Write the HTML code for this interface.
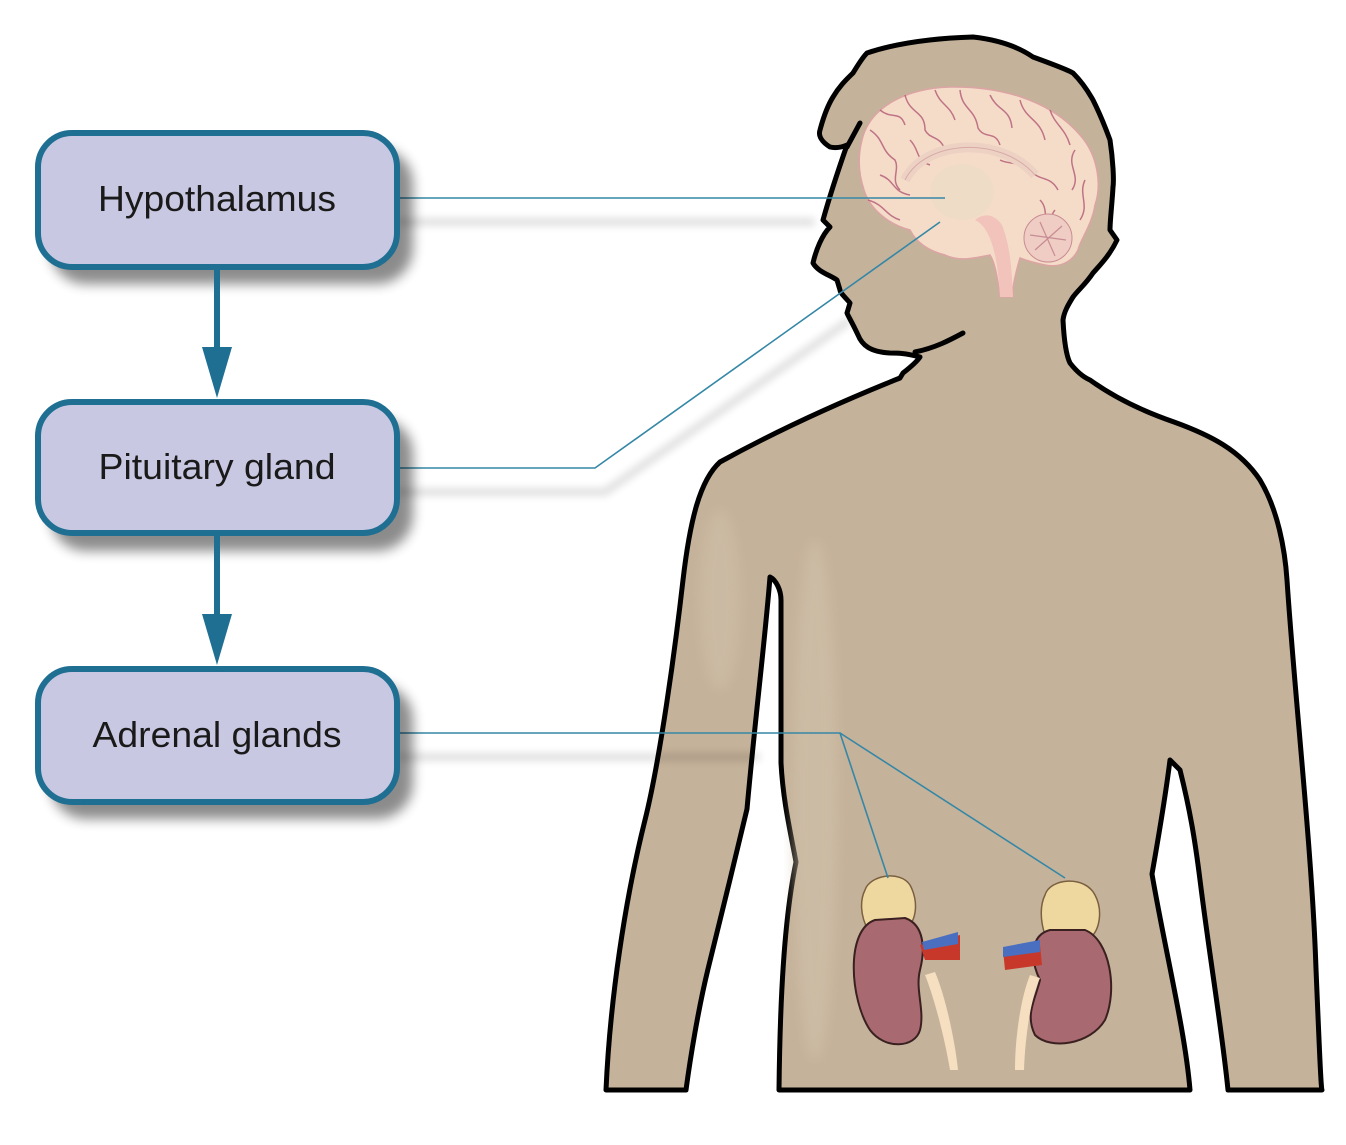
<!DOCTYPE html>
<html><head><meta charset="utf-8"><style>
html,body{margin:0;padding:0;background:#fff;}
svg{display:block;}
text{font-family:"Liberation Sans",sans-serif;}
</style></head><body>
<svg width="1346" height="1145" viewBox="0 0 1346 1145" xmlns="http://www.w3.org/2000/svg">
<defs>
<filter id="blur" x="-20%" y="-20%" width="140%" height="140%"><feGaussianBlur stdDeviation="6"/></filter>
<filter id="blur2" x="-50%" y="-50%" width="200%" height="200%"><feGaussianBlur stdDeviation="4"/></filter>
</defs>

<!-- body -->
<path d="M867,53 C900,42 940,38 973,37 C1000,40 1020,48 1033,57 C1055,65 1068,70 1073,73 C1085,85 1090,95 1093,100 C1103,120 1108,135 1110,140 C1113,160 1114,180 1113,187 C1112,205 1110,220 1110,230 L1117,240 C1110,255 1100,265 1093,273 C1085,285 1078,290 1073,297 C1068,305 1064,312 1063,320 C1064,340 1066,355 1070,363 C1077,372 1083,377 1090,380 C1115,398 1145,412 1174,422 C1210,435 1240,450 1260,480 C1278,510 1285,550 1287,580 C1295,700 1312,850 1316,969 C1319,1040 1321,1090 1322,1090 L1228,1090 C1222,1030 1210,960 1200,880 C1195,840 1190,810 1180,770 L1170,760 C1165,800 1158,840 1152,874 C1165,950 1185,1030 1190,1090 L779,1090 C780,1000 784,920 796,862 C790,830 783,800 781,763 C781,710 781,650 781,600 C781,590 776,580 770,577 C765,640 755,720 747,809 C735,860 720,920 708,969 C698,1010 690,1060 686,1090 L606,1090 C610,1000 625,900 645,820 C660,760 675,650 683,580 C690,520 700,480 720,462 C760,440 820,410 900,378 L903,373 C912,366 918,360 920,357 C905,353 897,353 890,353 C870,352 862,345 858,335 C852,322 848,316 847,313 L850,303 C846,298 840,293 840,290 L837,280 C830,275 818,272 813,263 C816,250 822,235 830,227 L823,220 C830,195 840,165 847,145 C840,148 834,148 830,147 C822,142 818,136 820,130 C824,115 828,105 833,97 C840,85 848,78 853,73 C858,65 862,58 867,53 Z"
 fill="#c5b29a" stroke="#000" stroke-width="5" stroke-linejoin="round"/>
<path d="M847,147 L860,123" stroke="#000" stroke-width="5" stroke-linecap="round"/>
<path d="M915,352 C935,348 950,340 963,333" fill="none" stroke="#000" stroke-width="5" stroke-linecap="round"/>
<!-- lighter shading -->
<ellipse cx="815" cy="800" rx="22" ry="260" fill="#d2c2ac" opacity="0.6" filter="url(#blur)"/>
<ellipse cx="720" cy="600" rx="20" ry="90" fill="#d2c2ac" opacity="0.5" filter="url(#blur)"/>

<!-- brain -->
<path d="M862,140 C870,105 910,88 950,87 C1000,86 1050,100 1080,135 C1098,155 1102,185 1095,205 C1092,225 1080,240 1078,250 C1072,262 1060,268 1045,265 C1030,262 1025,260 1020,258 C1015,275 1012,290 1013,297 L1000,297 C998,280 995,262 990,255 C975,258 960,262 945,255 C925,250 915,240 910,230 C890,225 870,210 864,190 C858,172 858,155 862,140 Z" fill="#f5dcc8" stroke="#dca4a4" stroke-width="1.5"/>
<g fill="none" stroke="#b5607a" stroke-width="1.5" opacity="0.85">
<path d="M870,130 C885,140 880,150 895,160 C900,170 890,180 900,190 M880,110 C892,120 900,110 905,125 M905,95 C910,115 925,110 925,130 C930,140 940,135 945,150 M935,90 C940,105 950,105 955,120 M960,90 C962,110 975,108 978,128 C985,140 995,130 1000,145 M990,95 C998,112 1010,108 1012,128 M1020,100 C1025,120 1040,118 1045,140 M1050,110 C1055,125 1065,128 1070,145 M1075,150 C1065,165 1082,175 1072,190 M1085,180 C1078,195 1090,205 1080,220 M868,200 C885,205 885,215 900,220 M880,175 C895,180 892,192 910,195 M1055,210 C1045,222 1060,232 1050,245 M1030,170 C1040,182 1050,175 1058,190 M1040,200 C1050,210 1040,222 1055,230 M910,140 C920,150 915,160 930,165 M1000,160 C1010,165 1015,160 1025,170"/>
</g>
<path d="M905,180 C925,140 1000,135 1035,175" fill="none" stroke="#edd2c4" stroke-width="10"/>
<path d="M905,180 C925,140 1000,135 1035,175" fill="none" stroke="#c88f94" stroke-width="1" opacity="0.6"/>
<ellipse cx="962" cy="192" rx="32" ry="28" fill="#efdcc6"/>
<path d="M975,220 C992,228 998,260 1000,297 L1013,297 C1012,270 1010,245 1002,225 C995,215 985,212 975,220 Z" fill="#f1c3bb"/>
<circle cx="1048" cy="238" r="24" fill="#efcdc4" stroke="#c98c94" stroke-width="1"/>
<g stroke="#c88c94" stroke-width="1.2" fill="none"><path d="M1030,235 L1066,240 M1040,222 L1055,256 M1035,250 L1062,226"/></g>

<!-- adrenal/kidneys -->
<g>
<path d="M865,890 C870,875 900,870 910,885 C918,900 918,920 905,930 L868,930 C860,915 860,900 865,890 Z" fill="#efd8a0" stroke="#7a6040" stroke-width="1.5"/>
<path d="M875,920 C845,930 850,1000 870,1030 C885,1050 915,1048 920,1030 C925,1010 915,990 920,970 C925,950 925,925 905,918 Z" fill="#a86a70" stroke="#3a2020" stroke-width="2"/>
<path d="M920,945 L960,935 L960,960 L925,960 Z" fill="#c8382a"/>
<path d="M922,942 L958,932 L958,944 L924,950 Z" fill="#4a6fc0"/>
<path d="M925,975 C935,1000 945,1040 950,1070 L958,1070 C955,1040 945,995 935,972 Z" fill="#f5dfc0"/>
<path d="M1045,895 C1050,878 1085,875 1095,895 C1103,910 1100,930 1090,938 L1045,935 C1040,920 1040,905 1045,895 Z" fill="#efd8a0" stroke="#7a6040" stroke-width="1.5"/>
<path d="M1050,930 C1030,935 1030,960 1040,980 C1035,1000 1025,1015 1035,1035 C1050,1050 1090,1045 1105,1020 C1118,990 1110,940 1085,930 Z" fill="#a86a70" stroke="#3a2020" stroke-width="2"/>
<path d="M1003,950 L1040,945 L1042,965 L1005,970 Z" fill="#c8382a"/>
<path d="M1003,947 L1040,940 L1040,952 L1003,957 Z" fill="#4a6fc0"/>
<path d="M1030,975 C1020,1000 1015,1040 1015,1070 L1024,1070 C1025,1040 1030,1000 1040,978 Z" fill="#f5dfc0"/>
</g>

<!-- connector shadows -->
<g stroke="#000" stroke-width="8" fill="none" opacity="0.12" filter="url(#blur2)">
<path d="M398,222 L815,222"/>
<path d="M398,492 L605,492 L850,320"/>
<path d="M398,757 L760,757"/>
</g>
<!-- connectors -->
<g stroke="#3587a6" stroke-width="1.6" fill="none">
<path d="M398,198 L945,198"/>
<path d="M398,468 L595,468 L940,222"/>
<path d="M398,733 L840,733 L888,878 M840,733 L1065,878"/>
</g>

<!-- boxes -->
<g>
<g filter="url(#blur)" opacity="0.45" fill="#000">
<rect x="50" y="148" width="363" height="136" rx="36"/>
<rect x="50" y="418" width="363" height="133" rx="36"/>
<rect x="50" y="684" width="363" height="135" rx="36"/>
</g>
<rect x="38" y="133" width="359" height="134" rx="34" fill="#c9c8e2" stroke="#1f6f93" stroke-width="6"/>
<rect x="38" y="402" width="359" height="131" rx="34" fill="#c9c8e2" stroke="#1f6f93" stroke-width="6"/>
<rect x="38" y="669" width="359" height="133" rx="34" fill="#c9c8e2" stroke="#1f6f93" stroke-width="6"/>
<text x="217" y="211" font-size="36" text-anchor="middle" fill="#1a1a1a" textLength="238" lengthAdjust="spacingAndGlyphs">Hypothalamus</text>
<text x="217" y="479" font-size="36" text-anchor="middle" fill="#1a1a1a" textLength="237" lengthAdjust="spacingAndGlyphs">Pituitary gland</text>
<text x="217" y="747" font-size="36" text-anchor="middle" fill="#1a1a1a" textLength="249" lengthAdjust="spacingAndGlyphs">Adrenal glands</text>
</g>

<!-- arrows -->
<g fill="#1f6f93">
<rect x="214" y="268" width="6" height="82"/>
<path d="M202,347 L232,347 L217,398 Z"/>
<rect x="214" y="535" width="6" height="82"/>
<path d="M202,614 L232,614 L217,665 Z"/>
</g>
</svg>
</body></html>
